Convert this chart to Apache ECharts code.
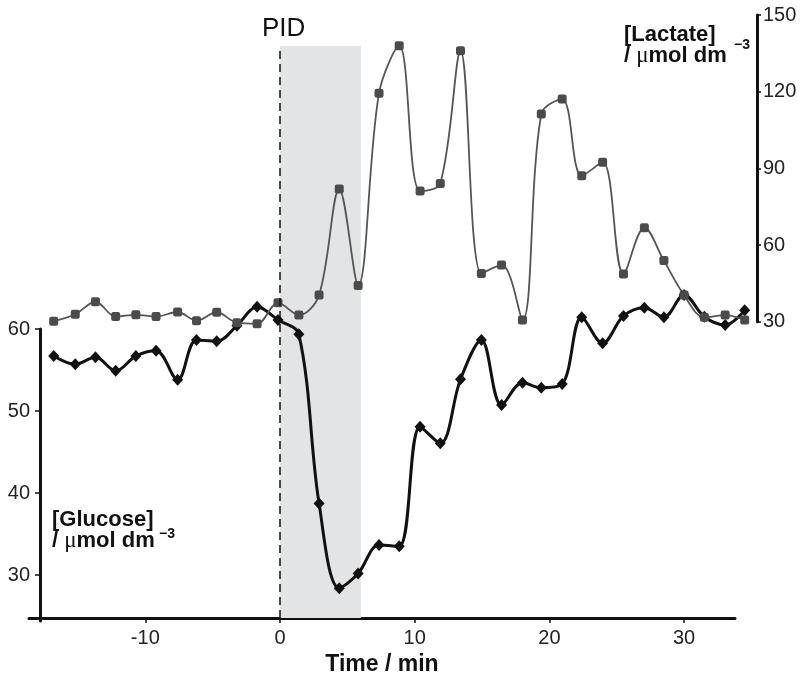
<!DOCTYPE html>
<html>
<head>
<meta charset="utf-8">
<script src="https://cdn.jsdelivr.net/npm/echarts@6/dist/echarts.min.js"></script>
<style>
html,body{margin:0;padding:0;background:#fff;}
#chart{width:805px;height:681px;}
</style>
</head>
<body>
<div id="chart"></div>
<script>
// sampling times (min)
var times = [-16.8, -15.2, -13.7, -12.2, -10.7, -9.2, -7.6, -6.2, -4.7, -3.2, -1.7, -0.15, 1.4,
	2.9, 4.4, 5.8, 7.35, 8.85, 10.4, 11.9, 13.4, 14.95, 16.45, 18.0, 19.4, 20.95, 22.4,
	23.95, 25.5, 27.05, 28.5, 30.0, 31.5, 33.05, 34.5];
var glucose = [56.7, 55.7, 56.55, 54.9, 56.7, 57.35, 53.8, 58.66, 58.5, 60.4, 62.7, 61.1, 59.35,
	38.74, 28.4, 30.2, 33.66, 33.5, 48.09, 46.06, 53.87, 58.66, 50.73, 53.45, 52.84, 53.29, 61.43,
	58.26, 61.59, 62.6, 61.43, 64.15, 61.5, 60.49, 62.3];
var lactate = [30.2, 32.9, 37.8, 32.0, 32.7, 32.0, 33.8, 30.4, 33.7, 29.6, 29.2, 37.4, 32.6,
	40.4, 81.9, 44.2, 119.4, 138.0, 81.1, 84.1, 136.0, 48.9, 52.2, 30.7, 111.3, 117.1, 87.1,
	92.4, 48.7, 66.8, 53.9, 40.4, 31.7, 32.6, 30.7];
var timeTicks = [-10, 0, 10, 20, 30];
var glucoseTicks = [30, 40, 50, 60];
var pidWindow = [0, 6];

var FONT = 'Liberation Sans';
var INK = '#111';
// 13.47 px per minute, t = 0 at x = 280
var PX_PER_MIN = 13.47, X0 = 280;

pairs = function(ys){
	var out = [];
	for(var i = 0; i < ys.length; i++){
		out.push([times[i], ys[i]]);
	}
	return out;
};

timeAt = function(px){
	return (px - X0) / PX_PER_MIN;
};

// data grids run a bit past the drawn axis so the last samples are not cut
hiddenXAxis = function(gridIndex){
	return {type: 'value', gridIndex: gridIndex, show: false, min: timeAt(40), max: timeAt(748)};
};

var unitRich = {
	b: {fontFamily: FONT, fontWeight: 'bold', fontSize: 22, lineHeight: 21, fill: INK},
	mu: {fontFamily: 'Liberation Serif', fontWeight: 'normal', fontSize: 23, lineHeight: 21, fill: INK}
};

var myChart = echarts.init(document.getElementById('chart'));
var option = {
	animation: false,
	backgroundColor: '#fff',
	grid: [
		{left: 40, right: 805 - 748, top: 329, bottom: 60},
		{left: 40, right: 805 - 748, top: 15, bottom: 359.3},
		{left: 29, right: 70, top: 46, bottom: 60}
	],
	xAxis: [
		hiddenXAxis(0),
		hiddenXAxis(1),
		{
			type: 'value',
			gridIndex: 2,
			min: timeAt(29),
			max: timeAt(735),
			splitLine: {show: false},
			axisLine: {onZero: false, lineStyle: {color: INK, width: 3}},
			axisTick: {customValues: timeTicks, length: 5, lineStyle: {color: INK, width: 1.5}},
			axisLabel: {customValues: timeTicks, margin: 10, fontFamily: FONT, fontSize: 20, color: '#222'},
			name: 'Time / min',
			nameLocation: 'middle',
			nameGap: 31,
			nameTextStyle: {fontFamily: FONT, fontWeight: 'bold', fontSize: 23, color: INK}
		}
	],
	yAxis: [
		{
			type: 'value', gridIndex: 0, min: 24.4, max: 60,
			splitLine: {show: false},
			axisLine: {show: true, onZero: false, lineStyle: {color: INK, width: 3}},
			axisTick: {customValues: glucoseTicks, length: 5, lineStyle: {color: INK, width: 1.5}},
			axisLabel: {customValues: glucoseTicks, margin: 10, fontFamily: FONT, fontSize: 20, color: '#222'}
		},
		{
			type: 'value', gridIndex: 1, position: 'right', offset: 9,
			min: 30, max: 150, interval: 30,
			splitLine: {show: false},
			axisLine: {show: true, onZero: false, lineStyle: {color: INK, width: 3}},
			axisTick: {length: 4, lineStyle: {color: INK, width: 1.5}},
			axisLabel: {margin: 6, fontFamily: FONT, fontSize: 20, color: '#222'}
		},
		{type: 'value', gridIndex: 2, min: 0, max: 1, show: false}
	],
	graphic: [
		{type: 'text', left: 262, top: 16, style: {text: 'PID', fontFamily: FONT, fontSize: 26, fill: INK}},
		{type: 'text', left: 624, top: 24, style: {text: '{b|[Lactate]}\n{b|/ }{mu|\u03bc}{b|mol dm}', rich: unitRich}},
		{type: 'text', left: 734, top: 38, style: {text: '\u22123', fontFamily: FONT, fontWeight: 'bold', fontSize: 14, fill: INK}},
		{type: 'text', left: 52, top: 509, style: {text: '{b|[Glucose]}\n{b|/ }{mu|\u03bc}{b|mol dm}', rich: unitRich}},
		{type: 'text', left: 159, top: 527, style: {text: '\u22123', fontFamily: FONT, fontWeight: 'bold', fontSize: 14, fill: INK}}
	],
	series: [
		{
			name: 'PID',
			type: 'line',
			xAxisIndex: 2,
			yAxisIndex: 2,
			data: [],
			z: 1,
			markArea: {
				silent: true,
				itemStyle: {color: '#e3e4e6'},
				data: [[{xAxis: pidWindow[0]}, {xAxis: pidWindow[1]}]]
			},
			markLine: {
				silent: true,
				symbol: 'none',
				label: {show: false},
				lineStyle: {color: INK, width: 1.5, type: [8, 5]},
				data: [{xAxis: pidWindow[0]}]
			}
		},
		{
			name: 'Glucose',
			type: 'line',
			xAxisIndex: 0,
			yAxisIndex: 0,
			data: pairs(glucose),
			smooth: 0.35,
			clip: false,
			z: 3,
			symbol: 'diamond',
			symbolSize: [11, 12],
			itemStyle: {color: INK},
			lineStyle: {color: INK, width: 3}
		},
		{
			name: 'Lactate',
			type: 'line',
			xAxisIndex: 1,
			yAxisIndex: 1,
			data: pairs(lactate),
			smooth: 0.35,
			clip: false,
			z: 4,
			symbol: 'roundRect',
			symbolSize: 9,
			itemStyle: {color: '#4b4b4b'},
			lineStyle: {color: '#555', width: 1.8}
		}
	]
};
myChart.setOption(option);
</script>
</body>
</html>
